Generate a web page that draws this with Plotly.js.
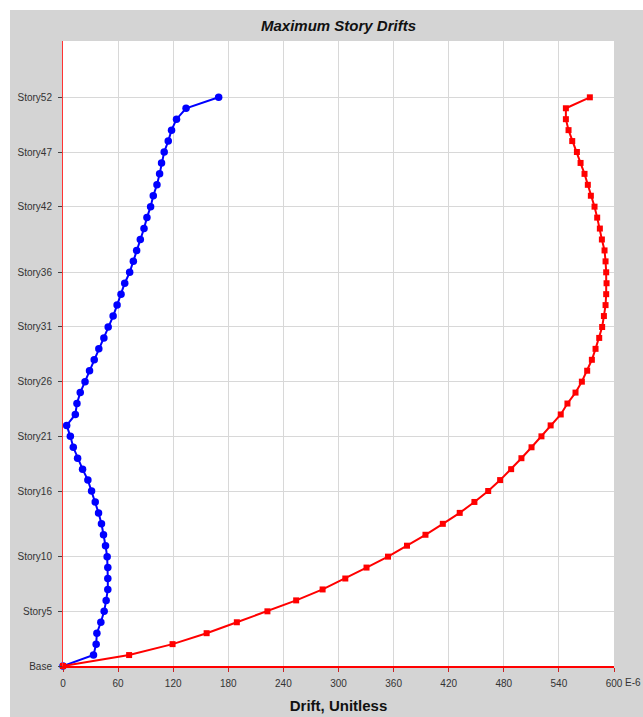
<!DOCTYPE html>
<html>
<head>
<meta charset="utf-8">
<script src="https://cdn.plot.ly/plotly-3.0.1.min.js"></script>
<style>
  html, body { margin: 0; padding: 0; background: #ffffff; }
  #chart { position: absolute; left: 10px; top: 10px; width: 633px; height: 707px; }
</style>
</head>
<body>
<div id="chart"></div>
<script>
// Story levels (0 = Base) up to Story52
const storyLevels = [0, 1, 2, 3, 4, 5, 6, 7, 8, 9, 10, 11, 12, 13, 14, 15, 16, 17, 18, 19, 20,
  21, 22, 23, 24, 25, 26, 27, 28, 29, 30, 31, 32, 33, 34, 35, 36, 37, 38, 39, 40,
  41, 42, 43, 44, 45, 46, 47, 48, 49, 50, 51, 52];

// Maximum story drift (x 1E-6), first direction
const driftBlue = [0, 33.2, 36.1, 36.9, 41.2, 44.8, 47.0, 48.8, 48.8, 48.8, 48.1,
  46.3, 44.1, 41.9, 38.7, 35.1, 31.1, 27.1, 21.3, 15.9, 11.2,
  8.0, 4.0, 13.4, 15.2, 18.8, 24.0, 28.9, 34.0, 39.0, 44.5,
  49.2, 54.6, 58.9, 63.2, 67.2, 72.6, 76.6, 80.2, 84.2, 88.2,
  91.4, 95.4, 98.3, 102.3, 105.2, 107.3, 110.2, 114.6, 118.2, 123.6,
  134.0, 169.5];

// Maximum story drift (x 1E-6), second direction
const driftRed = [0, 72.0, 119.3, 156.4, 189.3, 222.6, 253.9, 282.7, 307.4, 330.5, 353.9,
  374.6, 394.7, 413.6, 432.0, 448.0, 463.0, 476.0, 488.0, 499.2, 510.2,
  521.0, 531.0, 542.0, 549.3, 558.1, 565.0, 570.8, 575.9, 579.9, 583.9,
  587.1, 589.0, 590.8, 591.5, 591.9, 591.5, 590.8, 589.7, 586.8, 584.6,
  581.7, 578.8, 574.8, 571.5, 567.9, 563.6, 559.6, 554.5, 550.5, 547.6,
  547.6, 573.7];

// Axis ticks
const storyTickVals = [0, 5, 10, 16, 21, 26, 31, 36, 42, 47, 52];
const storyTickText = ["Base", "Story5", "Story10", "Story16", "Story21", "Story26",
  "Story31", "Story36", "Story42", "Story47", "Story52"];
const driftTickVals = [0, 60, 120, 180, 240, 300, 360, 420, 480, 540, 600];
const driftTickText = ["0", "60", "120", "180", "240", "300", "360", "420", "480", "540", "600"];

const font = "Liberation Sans, Arial, sans-serif";

const traces = [
  {
    x: driftBlue, y: storyLevels, type: "scatter", mode: "lines+markers",
    line: { color: "#0000ff", width: 2 },
    marker: { color: "#0000ff", size: 7.5, symbol: "circle" },
    cliponaxis: false, showlegend: false
  },
  {
    x: driftRed, y: storyLevels, type: "scatter", mode: "lines+markers",
    line: { color: "#ff0000", width: 2 },
    marker: { color: "#ff0000", size: 6, symbol: "square" },
    cliponaxis: false, showlegend: false
  }
];

const layout = {
  width: 633, height: 707,
  paper_bgcolor: "#d4d4d4",
  plot_bgcolor: "#ffffff",
  margin: { l: 52.5, r: 29, t: 31, b: 51 },
  title: {
    text: "<b><i>Maximum Story Drifts</i></b>",
    font: { family: font, size: 15, color: "#111111" },
    x: 0.5, xref: "paper", xanchor: "center",
    y: 1, yref: "paper", yanchor: "bottom", pad: { b: 10 }
  },
  xaxis: {
    range: [0, 600],
    tickmode: "array", tickvals: driftTickVals, ticktext: driftTickText,
    ticks: "outside", ticklen: 4, tickcolor: "#cc2222", tickwidth: 1,
    ticklabelstandoff: 3,
    tickfont: { family: font, size: 10, color: "#333333" },
    showgrid: true, gridcolor: "#d8d8d8", gridwidth: 1,
    showline: true, linecolor: "#ff0000", linewidth: 2,
    zeroline: false, mirror: false,
    title: {
      text: "<b>Drift, Unitless</b>",
      font: { family: font, size: 15, color: "#111111" },
      standoff: 12
    }
  },
  yaxis: {
    range: [0, 57.15],
    tickmode: "array", tickvals: storyTickVals, ticktext: storyTickText,
    ticks: "outside", ticklen: 4, tickcolor: "#444444", tickwidth: 1,
    ticklabelstandoff: 4,
    tickfont: { family: font, size: 10, color: "#333333" },
    showgrid: true, gridcolor: "#d8d8d8", gridwidth: 1,
    showline: true, linecolor: "#ff3333", linewidth: 1,
    zeroline: false
  },
  annotations: [
    {
      text: "E-6", xref: "paper", yref: "paper", x: 1, y: 0,
      xanchor: "left", yanchor: "top", xshift: 9, yshift: -9,
      showarrow: false,
      font: { family: font, size: 10, color: "#333333" }
    }
  ]
};

Plotly.newPlot("chart", traces, layout, { staticPlot: true, displayModeBar: false });
</script>
</body>
</html>
